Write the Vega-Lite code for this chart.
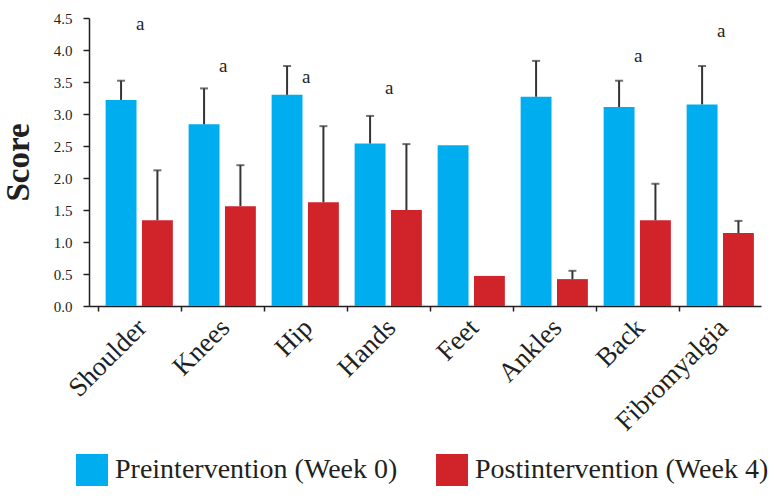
{
  "$schema": "https://vega.github.io/schema/vega-lite/v6.json",
  "autosize": "none",
  "width": 672,
  "height": 288,
  "padding": {"left": 89, "top": 18, "right": 16, "bottom": 197},
  "background": "white",
  "config": {
    "view": {"stroke": null},
    "font": "Liberation Serif",
    "axisY": {
      "titleFont": "Liberation Serif",
      "titleFontSize": 33,
      "titleFontWeight": "bold",
      "titleColor": "#231f20",
      "titlePadding": 18,
      "labelOverlap": false,
      "labelFlush": false,
      "labelFont": "Liberation Serif",
      "labelFontSize": 15,
      "labelColor": "#231f20",
      "labelPadding": 11,
      "tickSize": 6,
      "tickColor": "#231f20",
      "tickWidth": 1.5,
      "domainColor": "#231f20",
      "domainWidth": 1.5,
      "grid": false
    }
  },
  "datasets": {
    "bars": [
      {"region": "Shoulder", "group": "Preintervention (Week 0)", "value": 3.22, "upper": 3.52},
      {"region": "Shoulder", "group": "Postintervention (Week 4)", "value": 1.34, "upper": 2.12},
      {"region": "Knees", "group": "Preintervention (Week 0)", "value": 2.84, "upper": 3.40},
      {"region": "Knees", "group": "Postintervention (Week 4)", "value": 1.56, "upper": 2.20},
      {"region": "Hip", "group": "Preintervention (Week 0)", "value": 3.30, "upper": 3.75},
      {"region": "Hip", "group": "Postintervention (Week 4)", "value": 1.62, "upper": 2.81},
      {"region": "Hands", "group": "Preintervention (Week 0)", "value": 2.54, "upper": 2.97},
      {"region": "Hands", "group": "Postintervention (Week 4)", "value": 1.50, "upper": 2.53},
      {"region": "Feet", "group": "Preintervention (Week 0)", "value": 2.51, "upper": null},
      {"region": "Feet", "group": "Postintervention (Week 4)", "value": 0.47, "upper": null},
      {"region": "Ankles", "group": "Preintervention (Week 0)", "value": 3.27, "upper": 3.83},
      {"region": "Ankles", "group": "Postintervention (Week 4)", "value": 0.42, "upper": 0.55},
      {"region": "Back", "group": "Preintervention (Week 0)", "value": 3.11, "upper": 3.52},
      {"region": "Back", "group": "Postintervention (Week 4)", "value": 1.34, "upper": 1.91},
      {"region": "Fibromyalgia", "group": "Preintervention (Week 0)", "value": 3.15, "upper": 3.75},
      {"region": "Fibromyalgia", "group": "Postintervention (Week 4)", "value": 1.14, "upper": 1.33}
    ],
    "marks": [
      {"region": "Shoulder", "y": 4.40, "label": "a"},
      {"region": "Knees", "y": 3.75, "label": "a"},
      {"region": "Hip", "y": 3.58, "label": "a"},
      {"region": "Hands", "y": 3.41, "label": "a"},
      {"region": "Back", "y": 3.91, "label": "a"},
      {"region": "Fibromyalgia", "y": 4.29, "label": "a"}
    ]
  },
  "encoding": {
    "x": {
      "field": "region",
      "type": "nominal",
      "sort": ["Shoulder", "Knees", "Hip", "Hands", "Feet", "Ankles", "Back", "Fibromyalgia"],
      "scale": {"paddingInner": 0.19, "paddingOuter": 0.143, "align": 0.7},
      "axis": {
        "title": null,
        "labelAngle": -45,
        "labelFont": "Liberation Serif",
        "labelFontSize": 27,
        "labelColor": "#231f20",
        "labelPadding": 3,
        "labelOverlap": false,
        "tickOffset": -41.5,
        "labelOffset": 35,
        "tickSize": 5,
        "tickColor": "#231f20",
        "tickWidth": 1.5,
        "domainColor": "#231f20",
        "domainWidth": 1.5
      }
    }
  },
  "layer": [
    {
      "data": {"name": "bars"},
      "mark": {"type": "bar"},
      "encoding": {
        "xOffset": {
          "field": "group",
          "type": "nominal",
          "sort": ["Preintervention (Week 0)", "Postintervention (Week 4)"],
          "scale": {"paddingInner": 0.15}
        },
        "y": {
          "field": "value",
          "type": "quantitative",
          "scale": {"domain": [0, 4.5], "nice": false},
          "axis": {"title": "Score", "values": [0, 0.5, 1, 1.5, 2, 2.5, 3, 3.5, 4, 4.5], "format": ".1f"}
        },
        "color": {
          "field": "group",
          "type": "nominal",
          "sort": ["Preintervention (Week 0)", "Postintervention (Week 4)"],
          "scale": {"range": ["#00adef", "#d1232a"]},
          "legend": {
            "title": null,
            "orient": "none",
            "direction": "horizontal",
            "legendX": -13,
            "legendY": 436,
            "symbolType": "square",
            "symbolSize": 1024,
            "symbolStrokeWidth": 0,
            "labelFont": "Liberation Serif",
            "labelFontSize": 28,
            "labelColor": "#231f20",
            "labelOffset": 7,
            "labelLimit": 400,
            "columnPadding": 38
          }
        }
      }
    },
    {
      "data": {"name": "bars"},
      "transform": [{"filter": "datum.upper != null"}],
      "mark": {"type": "rule", "color": "#333333", "strokeWidth": 2},
      "encoding": {
        "xOffset": {
          "field": "group",
          "type": "nominal",
          "sort": ["Preintervention (Week 0)", "Postintervention (Week 4)"]
        },
        "y": {
          "field": "value",
          "type": "quantitative",
          "axis": {"title": "Score", "values": [0, 0.5, 1, 1.5, 2, 2.5, 3, 3.5, 4, 4.5], "format": ".1f"}
        },
        "y2": {"field": "upper"}
      }
    },
    {
      "data": {"name": "bars"},
      "transform": [{"filter": "datum.upper != null"}],
      "mark": {"type": "tick", "color": "#333333", "thickness": 2, "size": 8, "orient": "horizontal"},
      "encoding": {
        "xOffset": {
          "field": "group",
          "type": "nominal",
          "sort": ["Preintervention (Week 0)", "Postintervention (Week 4)"]
        },
        "y": {
          "field": "upper",
          "type": "quantitative",
          "axis": {"title": "Score", "values": [0, 0.5, 1, 1.5, 2, 2.5, 3, 3.5, 4, 4.5], "format": ".1f"}
        }
      }
    },
    {
      "data": {"name": "marks"},
      "mark": {"type": "text", "font": "Liberation Serif", "fontSize": 19, "color": "#231f20", "baseline": "middle", "dx": 1},
      "encoding": {
        "y": {
          "field": "y",
          "type": "quantitative",
          "axis": {"title": "Score", "values": [0, 0.5, 1, 1.5, 2, 2.5, 3, 3.5, 4, 4.5], "format": ".1f"}
        },
        "text": {"field": "label"}
      }
    }
  ]
}
